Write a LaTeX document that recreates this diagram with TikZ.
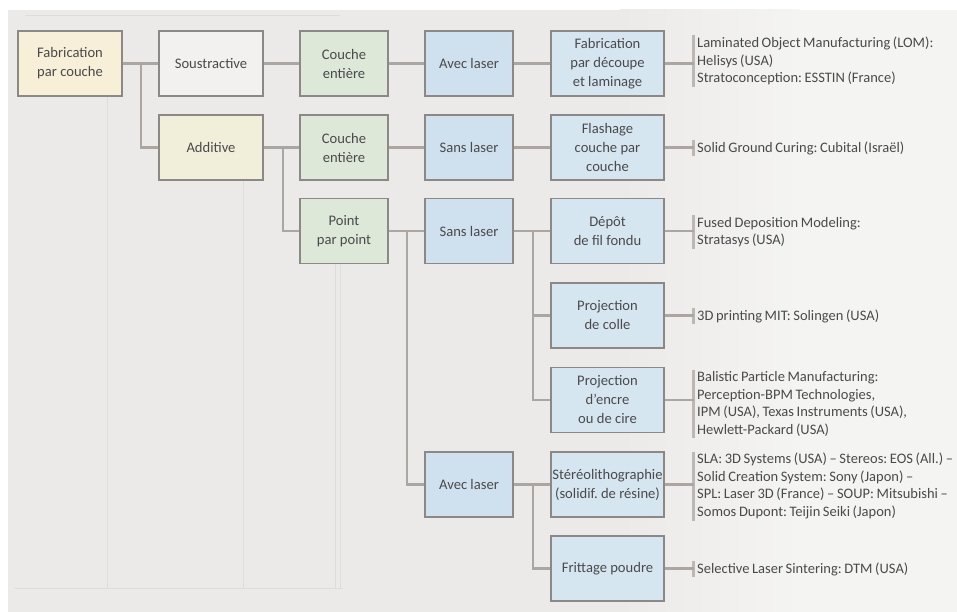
\documentclass[tikz,border=0pt]{standalone}
\usepackage{fontspec}
\setmainfont{Carlito}
\newfontfamily\infofont{Carlito}[WordSpace=0.8]
\frenchspacing
\definecolor{bgA}{HTML}{ECEAE8}
\definecolor{bgB}{HTML}{F4F4F3}
\definecolor{ghost}{HTML}{DEDBD8}
\definecolor{bordc}{HTML}{8C8886}
\definecolor{connc}{HTML}{ABA6A2}
\definecolor{barc}{HTML}{BDB8B4}
\definecolor{txtc}{HTML}{4A4A4A}
\definecolor{beige}{HTML}{F8EFD9}
\definecolor{whitebox}{HTML}{F3F1F0}
\definecolor{yel}{HTML}{F1EED9}
\definecolor{grn}{HTML}{DDE8D9}
\definecolor{blu}{HTML}{CFE1EE}
\definecolor{blu2}{HTML}{D6E6F1}
\begin{document}
\begin{tikzpicture}[x=1pt,y=-1pt,
  box/.style={draw=bordc,line width=1.3pt,minimum height=65,align=center,inner sep=1pt,text=txtc,font=\fontsize{14.6}{19}\selectfont\frenchspacing},
  wA/.style={box,minimum width=104},
  wB/.style={box,minimum width=88},
  wC/.style={box,minimum width=113},
  info/.style={anchor=west,align=left,inner xsep=0pt,inner ysep=1.5pt,text=txtc,font=\infofont\fontsize{14.5}{17.5}\selectfont\frenchspacing},
  conn/.style={draw=connc,line width=2.2pt},
  barline/.style={draw=barc,line width=3.5pt},
  ghostline/.style={draw=ghost,line width=0.8pt}]
\useasboundingbox (0,0) rectangle (957,612);
\fill[white] (0,0) rectangle (957,612);
\fill[bgA] (8,10) rectangle (957,612);
\shade[left color=bgA,right color=bgB] (620,10) rectangle (800,612);
\fill[bgB] (800,10) rectangle (957,612);
% faint ghost frame
\draw[ghostline] (25,15) -- (340,15);
\draw[ghostline] (15,588) -- (343,588);
\draw[ghostline] (107,96) -- (107,588);
\draw[ghostline] (243,180) -- (243,588);
\draw[ghostline] (335,264) -- (335,588);
\draw[ghostline] (340,264) -- (340,588);
% boxes
\node[wA,fill=beige] (fab) at (70,63.5) {Fabrication\\par couche};
\node[wA,fill=whitebox] (sous) at (211,63.5) {Soustractive};
\node[wA,fill=yel] (add) at (211,147.5) {Additive};
\node[wB,fill=grn] (ce1) at (344,63.5) {Couche\\entière};
\node[wB,fill=grn] (ce2) at (344,147.5) {Couche\\entière};
\node[wB,fill=grn] (ppp) at (344,231) {Point\\par point};
\node[wB,fill=blu] (al1) at (469,63.5) {Avec laser};
\node[wB,fill=blu] (sl1) at (469,147.5) {Sans laser};
\node[wB,fill=blu] (sl2) at (469,231) {Sans laser};
\node[wB,fill=blu] (al2) at (469,484.5) {Avec laser};
\node[wC,fill=blu2] (r1) at (607.5,63.5) {Fabrication\\par découpe\\et laminage};
\node[wC,fill=blu2] (r2) at (607.5,147.5) {Flashage\\couche par\\couche};
\node[wC,fill=blu2] (r3) at (607.5,231) {Dépôt\\de fil fondu};
\node[wC,fill=blu2] (r4) at (607.5,315.5) {Projection\\de colle};
\node[wC,fill=blu2] (r5) at (607.5,400) {Projection\\d’encre\\ou de cire};
\node[wC,fill=blu2] (r6) at (607.5,484.5) {Stéréolithographie\\(solidif. de résine)};
\node[wC,fill=blu2] (r7) at (607.5,568.5) {Frittage poudre};
% info texts
\node[info] (t1) at (697,61) {Laminated Object Manufacturing (LOM):\\Helisys (USA)\\Stratoconception: ESSTIN (France)};
\node[info] (t2) at (697,148) {Solid Ground Curing: Cubital (Israël)};
\node[info] (t3) at (697,232) {Fused Deposition Modeling:\\Stratasys (USA)};
\node[info] (t4) at (697,316) {3D printing MIT: Solingen (USA)};
\node[info] (t5) at (697,404) {Balistic Particle Manufacturing:\\Perception-BPM Technologies,\\IPM (USA), Texas Instruments (USA),\\Hewlett-Packard (USA)};
\node[info] (t6) at (697,486) {SLA: 3D Systems (USA) – Stereos: EOS (All.) –\\Solid Creation System: Sony (Japon) –\\SPL: Laser 3D (France) – SOUP: Mitsubishi –\\Somos Dupont: Teijin Seiki (Japon)};
\node[info] (t7) at (697,569) {Selective Laser Sintering: DTM (USA)};
\foreach \i in {1,...,7}{
  \coordinate (k\i) at ([xshift=-3.5]t\i.west);
  \draw[barline] ([xshift=-3.5]t\i.north west) -- ([xshift=-3.5]t\i.south west);
  \draw[conn] (r\i.east) -- (r\i.east -| k\i);
}
% tree connectors
\draw[conn] (fab.east) -- (sous.west);
\draw[conn] (fab.east) ++(18,0) |- (add.west);
\draw[conn] (sous.east) -- (ce1.west);
\draw[conn] (add.east) -- (ce2.west);
\draw[conn] (add.east) ++(19,0) |- (ppp.west);
\draw[conn] (ce1.east) -- (al1.west);
\draw[conn] (ce2.east) -- (sl1.west);
\draw[conn] (ppp.east) -- (sl2.west);
\draw[conn] (ppp.east) ++(18,0) |- (al2.west);
\draw[conn] (al1.east) -- (r1.west);
\draw[conn] (sl1.east) -- (r2.west);
\draw[conn] (sl2.east) -- (r3.west);
\draw[conn] (sl2.east) ++(19,0) |- (r4.west);
\draw[conn] (sl2.east) ++(19,0) |- (r5.west);
\draw[conn] (al2.east) -- (r6.west);
\draw[conn] (al2.east) ++(19,0) |- (r7.west);
\end{tikzpicture}
\end{document}
